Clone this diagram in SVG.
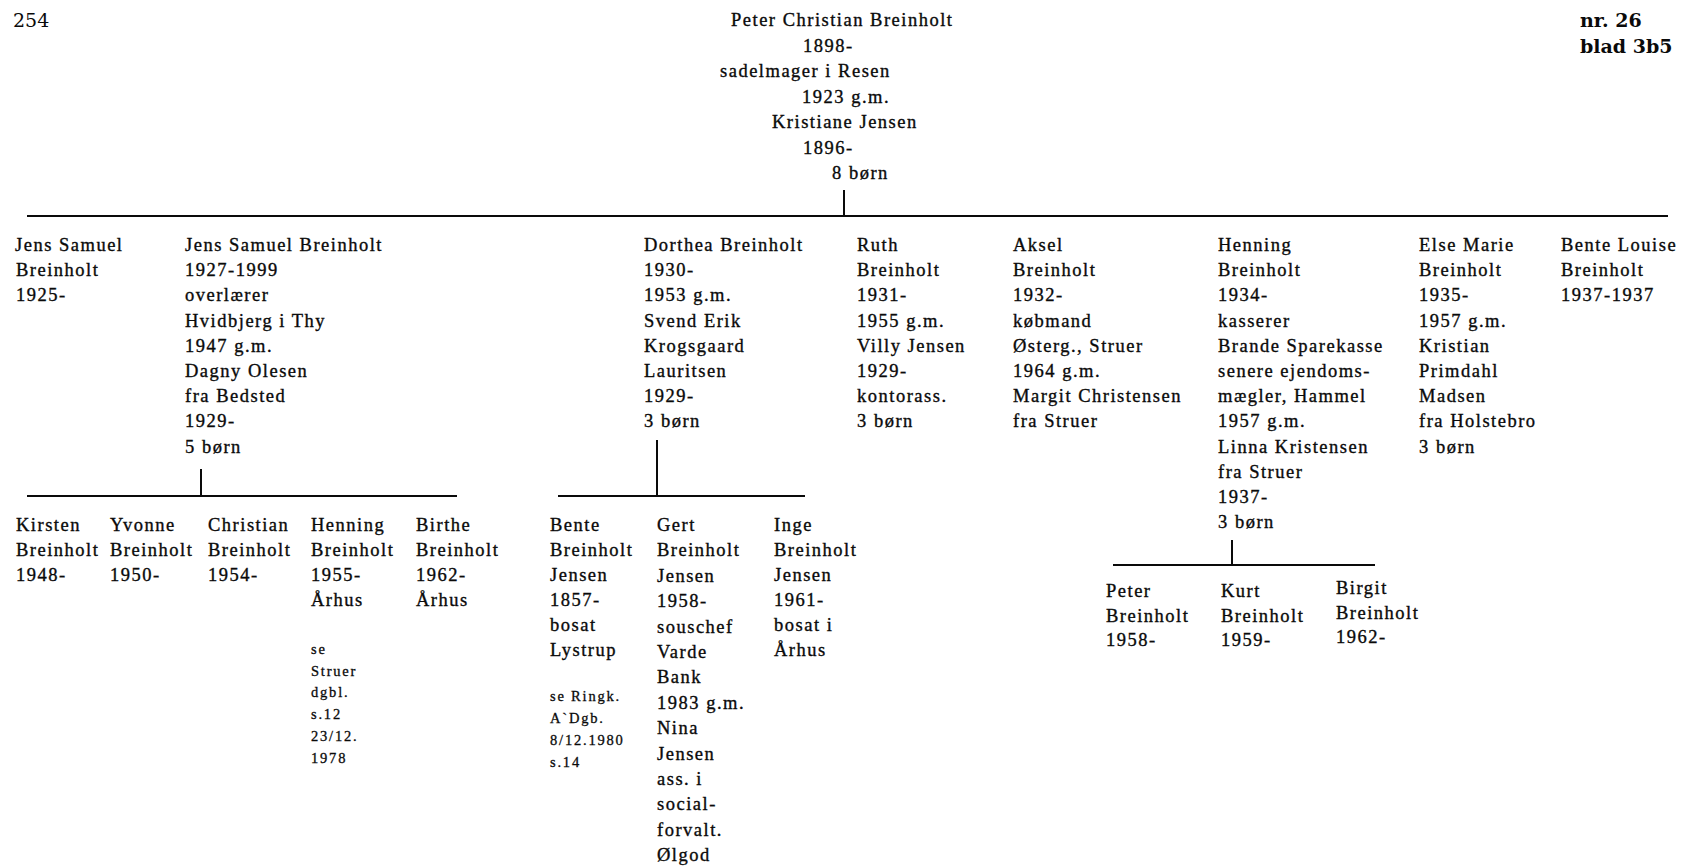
<svg xmlns="http://www.w3.org/2000/svg" width="1681" height="867" viewBox="0 0 1681 867">
<style>
text{font-family:"Liberation Serif","Times New Roman",serif;fill:#0a0a0a}
.t{font-size:18.5px;letter-spacing:1.5px;stroke:#0a0a0a;stroke-width:0.35px}
.n{font-size:14.5px;letter-spacing:1.8px;stroke:#0a0a0a;stroke-width:0.3px}
.hd{font-family:"DejaVu Serif",serif;font-size:19px}
.b{font-weight:bold}
.c line{stroke:#0a0a0a;stroke-width:2}
</style>
<rect width="1681" height="867" fill="#ffffff"/>
<g id="header">
<text class="hd" x="13" y="27">254</text>
<text class="hd b" x="1580" y="27">nr. 26</text>
<text class="hd b" x="1580" y="53">blad 3b5</text>
</g>
<g id="parents">
<text class="t">
<tspan x="731" y="26">Peter Christian Breinholt</tspan>
<tspan x="803" y="51.5">1898-</tspan>
<tspan x="720" y="77">sadelmager i Resen</tspan>
<tspan x="802" y="102.5">1923 g.m.</tspan>
<tspan x="772" y="128">Kristiane Jensen</tspan>
<tspan x="803" y="153.5">1896-</tspan>
<tspan x="832" y="179">8 børn</tspan>
</text>
</g>
<g class="c" id="connectors">
<line x1="844" y1="190" x2="844" y2="216"/>
<line x1="27" y1="216" x2="1668" y2="216"/>
<line x1="201" y1="469" x2="201" y2="496"/>
<line x1="27" y1="496" x2="457" y2="496"/>
<line x1="657" y1="440" x2="657" y2="496"/>
<line x1="558" y1="496" x2="805" y2="496"/>
<line x1="1232" y1="540" x2="1232" y2="565"/>
<line x1="1113" y1="565" x2="1375" y2="565"/>
</g>
<g id="child-jens-samuel-1925">
<text class="t"><tspan x="15" y="251">Jens Samuel</tspan><tspan x="16" dy="25.2">Breinholt</tspan><tspan x="16" dy="25.2">1925-</tspan></text>
</g>
<g id="child-jens-samuel-1927">
<text class="t"><tspan x="185" y="251">Jens Samuel Breinholt</tspan><tspan x="185" dy="25.2">1927-1999</tspan><tspan x="185" dy="25.2">overlærer</tspan><tspan x="185" dy="25.2">Hvidbjerg i Thy</tspan><tspan x="185" dy="25.2">1947 g.m.</tspan><tspan x="185" dy="25.2">Dagny Olesen</tspan><tspan x="185" dy="25.2">fra Bedsted</tspan><tspan x="185" dy="25.2">1929-</tspan><tspan x="185" dy="25.2">5 børn</tspan></text>
</g>
<g id="child-dorthea">
<text class="t"><tspan x="644" y="251">Dorthea Breinholt</tspan><tspan x="644" dy="25.2">1930-</tspan><tspan x="644" dy="25.2">1953 g.m.</tspan><tspan x="644" dy="25.2">Svend Erik</tspan><tspan x="644" dy="25.2">Krogsgaard</tspan><tspan x="644" dy="25.2">Lauritsen</tspan><tspan x="644" dy="25.2">1929-</tspan><tspan x="644" dy="25.2">3 børn</tspan></text>
</g>
<g id="child-ruth">
<text class="t"><tspan x="857" y="251">Ruth</tspan><tspan x="857" dy="25.2">Breinholt</tspan><tspan x="857" dy="25.2">1931-</tspan><tspan x="857" dy="25.2">1955 g.m.</tspan><tspan x="857" dy="25.2">Villy Jensen</tspan><tspan x="857" dy="25.2">1929-</tspan><tspan x="857" dy="25.2">kontorass.</tspan><tspan x="857" dy="25.2">3 børn</tspan></text>
</g>
<g id="child-aksel">
<text class="t"><tspan x="1013" y="251">Aksel</tspan><tspan x="1013" dy="25.2">Breinholt</tspan><tspan x="1013" dy="25.2">1932-</tspan><tspan x="1013" dy="25.2">købmand</tspan><tspan x="1013" dy="25.2">Østerg., Struer</tspan><tspan x="1013" dy="25.2">1964 g.m.</tspan><tspan x="1013" dy="25.2">Margit Christensen</tspan><tspan x="1013" dy="25.2">fra Struer</tspan></text>
</g>
<g id="child-henning">
<text class="t"><tspan x="1218" y="251">Henning</tspan><tspan x="1218" dy="25.2">Breinholt</tspan><tspan x="1218" dy="25.2">1934-</tspan><tspan x="1218" dy="25.2">kasserer</tspan><tspan x="1218" dy="25.2">Brande Sparekasse</tspan><tspan x="1218" dy="25.2">senere ejendoms-</tspan><tspan x="1218" dy="25.2">mægler, Hammel</tspan><tspan x="1218" dy="25.2">1957 g.m.</tspan><tspan x="1218" dy="25.2">Linna Kristensen</tspan><tspan x="1218" dy="25.2">fra Struer</tspan><tspan x="1218" dy="25.2">1937-</tspan><tspan x="1218" dy="25.2">3 børn</tspan></text>
</g>
<g id="child-else-marie">
<text class="t"><tspan x="1419" y="251">Else Marie</tspan><tspan x="1419" dy="25.2">Breinholt</tspan><tspan x="1419" dy="25.2">1935-</tspan><tspan x="1419" dy="25.2">1957 g.m.</tspan><tspan x="1419" dy="25.2">Kristian</tspan><tspan x="1419" dy="25.2">Primdahl</tspan><tspan x="1419" dy="25.2">Madsen</tspan><tspan x="1419" dy="25.2">fra Holstebro</tspan><tspan x="1419" dy="25.2">3 børn</tspan></text>
</g>
<g id="child-bente-louise">
<text class="t"><tspan x="1561" y="251">Bente Louise</tspan><tspan x="1561" dy="25.2">Breinholt</tspan><tspan x="1561" dy="25.2">1937-1937</tspan></text>
</g>
<g id="gc-kirsten">
<text class="t"><tspan x="16" y="531">Kirsten</tspan><tspan x="16" dy="25">Breinholt</tspan><tspan x="16" dy="25">1948-</tspan></text>
</g>
<g id="gc-yvonne">
<text class="t"><tspan x="110" y="531">Yvonne</tspan><tspan x="110" dy="25">Breinholt</tspan><tspan x="110" dy="25">1950-</tspan></text>
</g>
<g id="gc-christian">
<text class="t"><tspan x="208" y="531">Christian</tspan><tspan x="208" dy="25">Breinholt</tspan><tspan x="208" dy="25">1954-</tspan></text>
</g>
<g id="gc-henning">
<text class="t"><tspan x="311" y="531">Henning</tspan><tspan x="311" dy="25">Breinholt</tspan><tspan x="311" dy="25">1955-</tspan><tspan x="311" dy="25">Århus</tspan></text>
<text class="n"><tspan x="311" y="654">se</tspan><tspan x="311" dy="21.7">Struer</tspan><tspan x="311" dy="21.7">dgbl.</tspan><tspan x="311" dy="21.7">s.12</tspan><tspan x="311" dy="21.7">23/12.</tspan><tspan x="311" dy="21.7">1978</tspan></text>
</g>
<g id="gc-birthe">
<text class="t"><tspan x="416" y="531">Birthe</tspan><tspan x="416" dy="25">Breinholt</tspan><tspan x="416" dy="25">1962-</tspan><tspan x="416" dy="25">Århus</tspan></text>
</g>
<g id="gc-bente">
<text class="t"><tspan x="550" y="531">Bente</tspan><tspan x="550" dy="25">Breinholt</tspan><tspan x="550" dy="25">Jensen</tspan><tspan x="550" dy="25">1857-</tspan><tspan x="550" dy="25">bosat</tspan><tspan x="550" dy="25">Lystrup</tspan></text>
<text class="n"><tspan x="550" y="701">se Ringk.</tspan><tspan x="550" dy="22">A`Dgb.</tspan><tspan x="550" dy="22">8/12.1980</tspan><tspan x="550" dy="22">s.14</tspan></text>
</g>
<g id="gc-gert">
<text class="t"><tspan x="657" y="531">Gert</tspan><tspan x="657" dy="25.4">Breinholt</tspan><tspan x="657" dy="25.4">Jensen</tspan><tspan x="657" dy="25.4">1958-</tspan><tspan x="657" dy="25.4">souschef</tspan><tspan x="657" dy="25.4">Varde</tspan><tspan x="657" dy="25.4">Bank</tspan><tspan x="657" dy="25.4">1983 g.m.</tspan><tspan x="657" dy="25.4">Nina</tspan><tspan x="657" dy="25.4">Jensen</tspan><tspan x="657" dy="25.4">ass. i</tspan><tspan x="657" dy="25.4">social-</tspan><tspan x="657" dy="25.4">forvalt.</tspan><tspan x="657" dy="25.4">Ølgod</tspan></text>
</g>
<g id="gc-inge">
<text class="t"><tspan x="774" y="531">Inge</tspan><tspan x="774" dy="25">Breinholt</tspan><tspan x="774" dy="25">Jensen</tspan><tspan x="774" dy="25">1961-</tspan><tspan x="774" dy="25">bosat i</tspan><tspan x="774" dy="25">Århus</tspan></text>
</g>
<g id="gc-peter">
<text class="t"><tspan x="1106" y="597">Peter</tspan><tspan x="1106" dy="24.5">Breinholt</tspan><tspan x="1106" dy="24.5">1958-</tspan></text>
</g>
<g id="gc-kurt">
<text class="t"><tspan x="1221" y="597">Kurt</tspan><tspan x="1221" dy="24.5">Breinholt</tspan><tspan x="1221" dy="24.5">1959-</tspan></text>
</g>
<g id="gc-birgit">
<text class="t"><tspan x="1336" y="594">Birgit</tspan><tspan x="1336" dy="24.5">Breinholt</tspan><tspan x="1336" dy="24.5">1962-</tspan></text>
</g>
</svg>
